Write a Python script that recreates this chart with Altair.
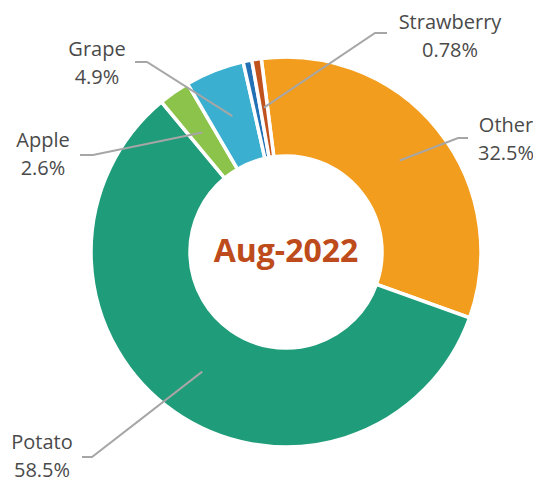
import math
import altair as alt
import pandas as pd

# ---- data ----
categories = ["Other", "Potato", "Apple", "Grape", "Blueberry", "Strawberry"]
shares = [32.5, 58.5, 2.6, 4.9, 0.72, 0.78]
share_labels = ["32.5%", "58.5%", "2.6%", "4.9%", "", "0.78%"]
colors = ["#F29D1D", "#1F9C79", "#8CC34A", "#3AAFD0", "#2271B5", "#C0521E"]
center_title = "Aug-2022"

# ---- layout ----
W, H = 525, 475
CX, CY = 278, 244
R_OUT, R_IN = 195, 96
R_LEADER = 146
START_DEG = -7.3
FONT = "Open Sans"

# first text line centre (tx, ty), leader elbow (ex, ey), leader end near text (hx, hy)
label_layout = {
    "Other": dict(tx=498, ty=118, ex=450, ey=130, hx=460, hy=130),
    "Potato": dict(tx=34, ty=435, ex=84, ey=449, hx=74, hy=449),
    "Apple": dict(tx=35, ty=133, ex=85, ey=147, hx=72, hy=147),
    "Grape": dict(tx=89, ty=42, ex=139, ey=54, hx=127, hy=54),
    "Strawberry": dict(tx=442, ty=15, ex=367, ey=25, hx=379, hy=25),
}

total = sum(shares)
start_rad = math.radians(START_DEG)

slices = pd.DataFrame({
    "category": categories,
    "share": shares,
    "idx": list(range(len(categories))),
})

# leader lines and label texts
line_rows, text_rows = [], []
cum = 0.0
for cat, val, lab in zip(categories, shares, share_labels):
    mid = START_DEG + (cum + val / 2) / total * 360.0
    cum += val
    if cat not in label_layout:
        continue
    lay = label_layout[cat]
    a = math.radians(mid)
    sx = CX + R_LEADER * math.sin(a)
    sy = CY - R_LEADER * math.cos(a)
    for k, (px, py) in enumerate([(sx, sy), (lay["ex"], lay["ey"]), (lay["hx"], lay["hy"])]):
        line_rows.append({"category": cat, "pt": k, "x": px, "y": py})
    text_rows.append({"category": cat, "x": lay["tx"], "y": lay["ty"], "label": f"{cat}\n{lab}"})

lines = pd.DataFrame(line_rows)
texts = pd.DataFrame(text_rows)

xs = alt.Scale(domain=[0, W])
ys = alt.Scale(domain=[0, H], reverse=True)

arcs = alt.Chart(slices).mark_arc(
    innerRadius=R_IN, outerRadius=R_OUT, stroke="white", strokeWidth=3.5
).encode(
    theta=alt.Theta("share:Q", stack=True,
                    scale=alt.Scale(range=[start_rad, start_rad + 2 * math.pi])),
    order=alt.Order("idx:Q", sort="ascending"),
    color=alt.Color("category:N", scale=alt.Scale(domain=categories, range=colors), legend=None),
    x=alt.value(CX),
    y=alt.value(CY),
)

leaders = alt.Chart(lines).mark_line(color="#A6A6A6", strokeWidth=2).encode(
    x=alt.X("x:Q", scale=xs, axis=None),
    y=alt.Y("y:Q", scale=ys, axis=None),
    detail="category:N",
    order="pt:Q",
)

labels = alt.Chart(texts).mark_text(
    font=FONT, fontSize=20, color="#4A4A4A", lineBreak="\n", lineHeight=28,
    align="center", baseline="middle",
).encode(
    x=alt.X("x:Q", scale=xs, axis=None),
    y=alt.Y("y:Q", scale=ys, axis=None),
    text="label:N",
)

title = alt.Chart(pd.DataFrame({"t": [center_title]})).mark_text(
    font=FONT, fontSize=32, fontWeight="bold", color="#BE4B1B",
    align="center", baseline="middle",
).encode(
    x=alt.value(CX),
    y=alt.value(CY),
    text="t:N",
)

chart = alt.layer(arcs, leaders, labels, title).properties(
    width=W, height=H, padding=0, autosize="none"
).configure_view(stroke=None)

chart.save("out.html", embed_options={"renderer": "svg", "actions": False})
